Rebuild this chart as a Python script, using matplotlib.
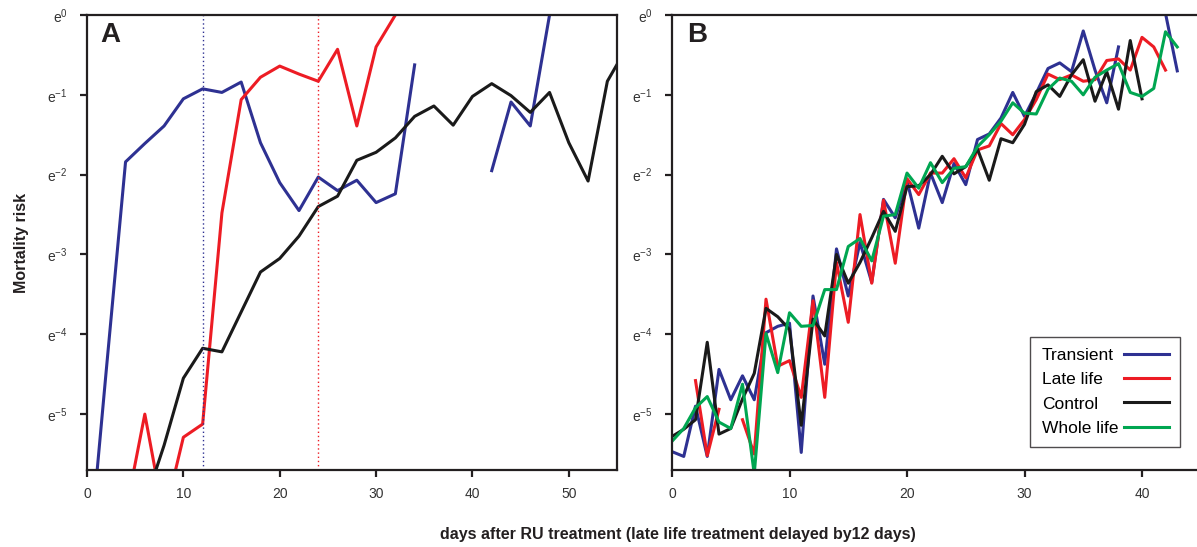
#!/usr/bin/env python3
"""Mortality risk (natural-log scale) after RU treatment, panels A and B."""
import matplotlib

matplotlib.use("Agg")
import matplotlib.pyplot as plt
import numpy as np

nan = np.nan

# ---- panel A: every second day, values are ln(mortality) ----
a_days_transient = list(range(0, 50, 2))
a_transient = [-7.1, -4.45, -1.84, -1.61, -1.39, -1.05, -0.925, -0.97, -0.84,
               -1.60, -2.10, -2.45, -2.03, -2.20, -2.07, -2.35, -2.24, -0.625,
               nan, nan, nan, -1.95, -1.09, -1.39, 0.0]
a_days_late = list(range(4, 34, 2))
a_late = [-6.24, -5.0, -6.3, -5.29, -5.125, -2.48, -1.06, -0.78, -0.64, -0.74,
          -0.83, -0.43, -1.39, -0.40, 0.0]
a_days_control = list(range(6, 58, 2))
a_control = [-6.12, -5.39, -4.55, -4.175, -4.22, -3.72, -3.22, -3.05, -2.77,
             -2.40, -2.27, -1.82, -1.72, -1.54, -1.27, -1.14, -1.38, -1.02,
             -0.86, -1.01, -1.22, -0.97, -1.60, -2.08, -0.83, -0.41]
a_treat_days = [12, 24]  # transient / late-life treatment markers

# ---- panel B: daily ----
b_days = list(range(0, 44))
b_transient = [-5.47, -5.53, -4.90, -5.53, -4.44, -4.82, -4.52, -4.82, -3.98,
               -3.90, -3.86, -5.48, -3.52, -4.375, -2.93, -3.52, -2.85, -3.35,
               -2.31, -2.54, -2.08, -2.67, -1.98, -2.35, -1.86, -2.125, -1.56,
               -1.49, -1.29, -0.97, -1.27, -0.98, -0.67, -0.60, -0.71, -0.20,
               -0.69, -1.10, -0.40, nan, nan, nan, 0.02, -0.70]
b_late = [nan, nan, -4.58, -5.52, -4.94, nan, -5.07, -5.5, -3.56, -4.40,
          -4.33, -4.79, -3.58, -4.79, -3.10, -3.85, -2.5, -3.36, -2.32, -3.11,
          -2.05, -2.25, -1.98, -1.98, -1.80, -2.04, -1.69, -1.64, -1.36, -1.5,
          -1.31, -1.06, -0.74, -0.81, -0.75, -0.83, -0.81, -0.57, -0.55, -0.69,
          -0.28, -0.40, -0.69, nan]
b_control = [-5.28, -5.19, -5.07, -4.10, -5.25, -5.18, -4.81, -4.49, -3.675,
             -3.78, -3.94, -5.14, -3.81, -4.02, -3.0, -3.36, -3.1, -2.79, -2.46,
             -2.71, -2.15, -2.14, -2.0, -1.77, -1.99, -1.90, -1.68, -2.07, -1.55,
             -1.60, -1.37, -0.96, -0.875, -1.02, -0.75, -0.56, -1.08, -0.71,
             -1.18, -0.32, -1.05, nan, nan, nan]
b_whole = [-5.34, -5.18, -4.92, -4.78, -5.10, -5.18, -4.625, -5.75, -3.99,
           -4.48, -3.73, -3.90, -3.89, -3.44, -3.44, -2.90, -2.80, -3.08, -2.52,
           -2.5, -1.98, -2.17, -1.85, -2.10, -1.92, -1.90, -1.65, -1.50, -1.33,
           -1.10, -1.23, -1.24, -0.93, -0.79, -0.83, -1.0, -0.78, -0.69, -0.61,
           -0.97, -1.02, -0.92, -0.21, -0.40]

y_ticks = [0, -1, -2, -3, -4, -5]
y_labels = [r"$\mathregular{e^{%d}}$" % k for k in y_ticks]

BLUE, RED, BLACK, GREEN = "#2e3192", "#ed1c24", "#1a1a1a", "#00a651"
SPINE = "#231f20"

plt.rcParams["font.family"] = ["Liberation Sans", "DejaVu Sans"]
plt.rcParams["mathtext.fontset"] = "custom"
plt.rcParams["mathtext.rm"] = "Liberation Sans"

W, H = 1197, 547
fig = plt.figure(figsize=(W / 100, H / 100), dpi=100)
ax_a = fig.add_axes([87 / W, 1 - 470 / H, (617 - 87) / W, (470 - 15) / H])
ax_b = fig.add_axes([672 / W, 1 - 470 / H, (1197 - 672) / W, (470 - 15) / H])


def style(ax, xmax, xticks):
    ax.set_xlim(0, xmax)
    ax.set_ylim(-5.7, 0)
    ax.set_xticks(xticks)
    ax.set_yticks(y_ticks)
    ax.set_yticklabels(y_labels)
    for s in ax.spines.values():
        s.set_linewidth(1.6)
        s.set_color(SPINE)
    ax.tick_params(axis="both", direction="out", length=5, width=1.6,
                   color=SPINE, labelcolor="#333333")
    ax.tick_params(axis="x", labelsize=10, pad=7)
    ax.tick_params(axis="y", labelsize=10, pad=9)


lw = 2.2
ax_a.plot(a_days_transient, a_transient, color=BLUE, lw=lw)
ax_a.plot(a_days_late, a_late, color=RED, lw=lw)
ax_a.plot(a_days_control, a_control, color=BLACK, lw=lw)
ax_a.axvline(a_treat_days[0], color=BLUE, lw=1.0, ls=(0, (1, 2)))
ax_a.axvline(a_treat_days[1], color=RED, lw=1.0, ls=(0, (1, 2)))
style(ax_a, 55, [0, 10, 20, 30, 40, 50])
ax_a.text(0.025, 0.985, "A", transform=ax_a.transAxes, fontsize=20,
          fontweight="bold", va="top", ha="left", color=SPINE)

ax_b.plot(b_days, b_transient, color=BLUE, lw=lw, label="Transient")
ax_b.plot(b_days, b_late, color=RED, lw=lw, label="Late life")
ax_b.plot(b_days, b_control, color=BLACK, lw=lw, label="Control")
ax_b.plot(b_days, b_whole, color=GREEN, lw=lw, label="Whole life")
style(ax_b, (1197 - 672) / 11.75, [0, 10, 20, 30, 40])
ax_b.spines["right"].set_visible(False)
ax_b.text(0.028, 0.985, "B", transform=ax_b.transAxes, fontsize=20,
          fontweight="bold", va="top", ha="left", color=SPINE)

leg = ax_b.legend(loc="lower right", bbox_to_anchor=(1180 / W, 1 - 447 / H),
                  bbox_transform=fig.transFigure, borderaxespad=0,
                  markerfirst=False, fancybox=False, fontsize=12.5,
                  handlelength=2.6, handletextpad=0.3, labelspacing=0.52,
                  borderpad=0.65)
leg.get_frame().set_edgecolor(SPINE)
leg.get_frame().set_linewidth(1.0)
# left-align the labels while keeping the line samples flush right
for col in leg._legend_handle_box.get_children():
    for row in col.get_children():
        row.mode = "expand"
        row.width = 127

fig.text(22 / W, 1 - 243 / H, "Mortality risk", rotation=90, fontsize=11.5,
         fontweight="bold", ha="center", va="center", color=SPINE)
fig.text(678 / W, 1 - 535 / H,
         "days after RU treatment (late life treatment delayed by12 days)",
         fontsize=11.5, fontweight="bold", ha="center", va="center",
         color=SPINE)

fig.savefig("out.png", dpi=100)
